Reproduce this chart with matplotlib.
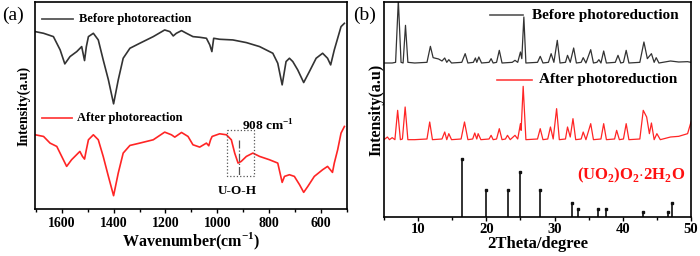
import numpy as np
import matplotlib.pyplot as plt

plt.rcParams['font.family'] = ['Liberation Serif', 'DejaVu Serif']
plt.rcParams['font.weight'] = 'bold'
plt.rcParams['mathtext.fontset'] = 'custom'
plt.rcParams['mathtext.rm'] = 'Liberation Serif:bold'
plt.rcParams['mathtext.bf'] = 'Liberation Serif:bold'

# ---- FTIR (a) ----
wn_before = [1702, 1670, 1632, 1606, 1588, 1568, 1542, 1523, 1512, 1505, 1497, 1478, 1459,
             1440, 1420, 1400, 1382, 1363, 1337, 1299, 1247, 1203, 1183, 1170, 1158, 1138,
             1119, 1094, 1068, 1042, 1029, 1021, 1014, 991, 940, 888, 837, 786, 767, 750,
             735, 722, 709, 690, 667, 645, 619, 594, 575, 563, 549, 536, 523, 510]
ir_before = [95, 100, 110, 150, 192, 170, 155, 140, 182, 140, 110, 100, 120,
             180, 240, 312, 240, 175, 145, 130, 110, 90, 95, 108, 100, 92,
             100, 110, 112, 115, 135, 155, 115, 118, 120, 128, 140, 160, 190, 255,
             185, 175, 185, 210, 248, 215, 175, 160, 175, 195, 150, 115, 80, 70]

wn_after = [1702, 1670, 1645, 1619, 1600, 1581, 1562, 1530, 1520, 1512, 1505, 1497, 1478,
            1459, 1440, 1420, 1400, 1382, 1363, 1337, 1299, 1247, 1203, 1177, 1164, 1138,
            1113, 1094, 1068, 1042, 1033, 1026, 1020, 991, 965, 946, 933, 920, 908, 888,
            863, 837, 799, 767, 750, 741, 722, 703, 683, 667, 651, 626, 594, 575, 556,
            549, 536, 523, 510]
ir_after = [405, 410, 430, 440, 470, 500, 480, 455, 470, 478, 450, 420, 405,
            420, 470, 530, 588, 520, 460, 437, 430, 420, 397, 405, 412, 398,
            410, 435, 442, 430, 438, 420, 410, 402, 405, 420, 460, 490, 485, 470,
            460, 470, 480, 490, 548, 530, 525, 530, 555, 578, 560, 530, 510, 500, 518,
            490, 450, 400, 380]

# ---- XRD (b) ----
tt_before = [5, 6.2, 6.7, 7.1, 7.5, 7.8, 8.15, 8.5, 9.5, 11.3, 11.8, 12.2, 13.0, 13.5,
             13.9, 14.2, 14.5, 14.9, 16.4, 16.9, 17.3, 18.1, 18.4, 18.6, 18.9, 19.3, 20.4,
             20.7, 21.0, 21.5, 21.9, 22.3, 23.8, 24.2, 24.6, 25.0, 25.2, 25.5, 25.8, 27.5,
             27.9, 28.3, 29.1, 29.5, 29.9, 30.4, 30.8, 31.6, 31.9, 32.3, 32.8, 33.2, 33.9,
             34.2, 34.6, 35.3, 35.7, 36.2, 36.5, 36.8, 37.2, 37.6, 38.9, 39.3, 39.7, 40.1,
             40.5, 40.9, 42.5, 43.1, 43.6, 44.2, 44.6, 44.9, 45.3, 47.0, 48.2, 49.5, 50]
xrd_before = [188, 188, 186, 0, 186, 188, 75, 186, 188, 186, 138, 172, 176, 182,
              173, 186, 178, 188, 186, 160, 188, 186, 173, 186, 170, 188, 186,
              175, 188, 186, 150, 188, 186, 180, 186, 155, 175, 50, 188, 186,
              168, 188, 186, 160, 186, 120, 188, 186, 165, 186, 143, 188, 186,
              172, 188, 148, 188, 186, 178, 188, 152, 188, 186, 165, 188, 186,
              150, 188, 186, 125, 175, 160, 186, 172, 188, 182, 185, 184, 186]

tt_after = [5, 5.5, 5.8, 6.2, 6.6, 7.0, 7.4, 7.7, 8.1, 8.5, 9.5, 11.3, 11.7, 12.1, 13.5,
            13.9, 14.2, 14.5, 14.9, 16.3, 16.8, 17.3, 18.0, 18.3, 18.6, 18.8, 19.2, 20.4,
            20.7, 21.0, 21.5, 21.9, 22.3, 22.8, 23.1, 23.5, 24.2, 24.6, 25.0, 25.1, 25.4,
            25.8, 27.5, 27.9, 28.3, 29.0, 29.4, 29.8, 30.3, 30.7, 31.6, 31.9, 32.3, 32.7,
            33.1, 33.9, 34.2, 34.6, 35.3, 35.7, 36.8, 37.2, 37.6, 38.8, 39.1, 39.5, 40.1,
            40.5, 40.9, 42.5, 43.0, 43.5, 43.9, 44.2, 44.6, 45.0, 45.5, 47.0, 48.2, 49.5, 50]
xrd_after = [418, 410, 418, 412, 418, 330, 418, 416, 320, 418, 418, 416, 365, 418, 416,
             395, 418, 400, 418, 416, 365, 418, 416, 398, 416, 400, 418, 416,
             405, 418, 416, 385, 418, 416, 405, 418, 405, 416, 370, 390, 258,
             418, 416, 385, 418, 416, 380, 416, 325, 418, 416, 380, 410, 355,
             418, 416, 395, 418, 370, 418, 416, 370, 418, 416, 390, 418, 416,
             370, 418, 416, 330, 350, 400, 368, 418, 400, 418, 410, 408, 400, 365]

ref_tt = [16.5, 20.0, 23.2, 25.0, 27.8, 32.5, 33.5, 36.4, 37.5, 43.0, 46.6, 47.2]
ref_top = [477, 570, 570, 514, 570, 607, 627, 627, 627, 635, 635, 607]

fig = plt.figure(figsize=(7, 2.56), dpi=100)

# panel a
ax1 = fig.add_axes([35 / 700, 47 / 256, 312 / 700, 207 / 256])
a_base = 628
ax1.plot(wn_before, [a_base - v for v in ir_before], color='#333333', lw=1.2)
ax1.plot(wn_after, [a_base - v for v in ir_after], color='#ff2525', lw=1.2)
ax1.set_xlim(1703, 508)
ax1.set_ylim(0, 622)
ax1.set_yticks([])
ax1.set_xticks([1600, 1400, 1200, 1000, 800, 600])
ax1.set_xticks([1700, 1500, 1300, 1100, 900, 700, 500], minor=True)
ax1.tick_params(axis='x', direction='out', length=3, width=1, labelsize=10, pad=3)
ax1.tick_params(axis='x', which='minor', direction='out', length=2, width=1)
for lab in ax1.get_xticklabels():
    lab.set_fontweight('bold')
ax1.set_xlabel('Wavenumber(cm$^{-1}$)', fontsize=11.5, fontweight='bold', labelpad=0)
ax1.set_ylabel('Intensity(a.u)', fontsize=10, fontweight='bold', labelpad=3)
for s in ax1.spines.values():
    s.set_linewidth(1.2)

# legend-like labels
ax1.plot([1675, 1555], [a_base - 58, a_base - 58], color='#555555', lw=1.3)
ax1.text(1535, a_base - 58, 'Before photoreaction', fontsize=9, fontweight='bold',
         va='center', ha='left')
ax1.plot([1675, 1560], [a_base - 355, a_base - 355], color='#ff4040', lw=1.3)
ax1.text(1540, a_base - 355, 'After photoreaction', fontsize=9, fontweight='bold',
         va='center', ha='left')
ax1.text(805, a_base - 378, '908 cm$^{-1}$', fontsize=9.5, fontweight='bold', ha='center', va='center')
ax1.text(922, a_base - 573, 'U-O-H', fontsize=9.5, fontweight='bold', ha='center', va='center')
ax1.plot([963, 860, 860, 963, 963], [a_base - 392, a_base - 392, a_base - 530, a_base - 530, a_base - 392],
         color='#555555', lw=0.9, ls=':')
ax1.plot([917, 917], [a_base - 420, a_base - 530], color='#555555', lw=0.9, ls='-.')

fig.text(2 / 700, 1 - 15 / 256, '(a)', fontsize=14, fontweight='normal', va='center')

# panel b
ax2 = fig.add_axes([384 / 700, 39 / 256, 307 / 700, 215 / 256])
b_base = 650
ax2.plot(tt_before, [b_base - v for v in xrd_before], color='#333333', lw=0.9)
ax2.plot(tt_after, [b_base - v for v in xrd_after], color='#ff2525', lw=0.9)
ax2.vlines(ref_tt, 0, [b_base - v for v in ref_top], color='#222222', lw=1.3)
ax2.plot(ref_tt, [b_base - v for v in ref_top], 's', color='#111111', ms=1.8)
ax2.set_xlim(5, 50)
ax2.set_ylim(0, 645)
ax2.set_yticks([])
ax2.set_xticks([10, 20, 30, 40, 50])
ax2.set_xticks([5, 15, 25, 35, 45], minor=True)
ax2.tick_params(axis='x', direction='out', length=3, width=1, labelsize=10.5, pad=1)
ax2.tick_params(axis='x', which='minor', direction='out', length=2, width=1)
for lab in ax2.get_xticklabels():
    lab.set_fontweight('bold')
ax2.set_xlabel('2Theta/degree', fontsize=12, fontweight='bold', labelpad=0)
ax2.set_ylabel('Intensity(a.u)', fontsize=11.5, fontweight='bold', labelpad=0)
for s in ax2.spines.values():
    s.set_linewidth(1.2)

ax2.plot([20.5, 25.4], [b_base - 45, b_base - 45], color='#555555', lw=1.2)
ax2.text(26.7, b_base - 45, 'Before photoreduction', fontsize=11, fontweight='bold',
         va='center', ha='left')
ax2.plot([21.6, 26.7], [b_base - 238, b_base - 238], color='#ff4040', lw=1.2)
ax2.text(27.7, b_base - 238, 'After photoreduction', fontsize=11, fontweight='bold',
         va='center', ha='left')
ax2.text(33.3, b_base - 525, '(UO$_2$)O$_2$$\\cdot$2H$_2$O', fontsize=12, fontweight='bold',
         color='#ff1010', va='center', ha='left')

fig.text(353 / 700, 1 - 15 / 256, '(b)', fontsize=14, fontweight='normal', va='center')

fig.savefig('out.png', dpi=100)
